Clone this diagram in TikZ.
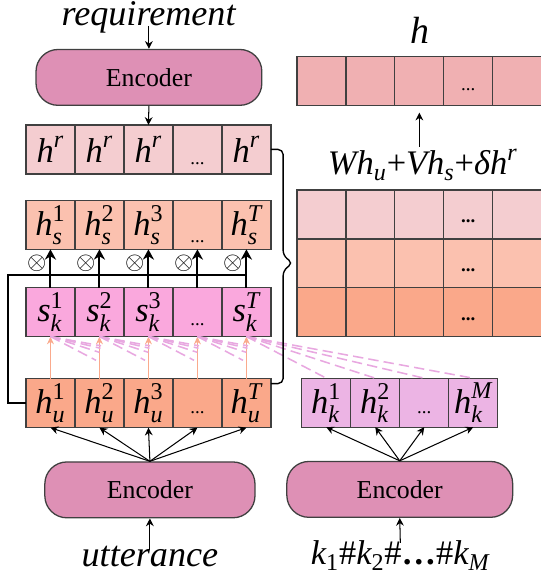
\documentclass[tikz,border=0pt]{standalone}
\usepackage{amsmath}
\usepackage{fontspec}
\setmainfont{Liberation Serif}[ItalicFont={Liberation Serif Italic},BoldFont={Liberation Serif Bold}]
\usetikzlibrary{arrows.meta,calc}

\definecolor{encfill}{RGB}{222,144,181}
\definecolor{hrc}{RGB}{244,205,208}
\definecolor{hsc}{RGB}{251,193,175}
\definecolor{skc}{RGB}{250,168,221}
\definecolor{huc}{RGB}{250,168,138}
\definecolor{hhc}{RGB}{240,176,178}
\definecolor{hkc}{RGB}{236,180,228}
\definecolor{bordc}{RGB}{64,64,64}
\definecolor{salm}{RGB}{250,170,140}
\definecolor{dashc}{RGB}{232,168,224}

\newcommand{\cellfont}{\fontsize{20}{24}\selectfont}
\newcommand{\lblfont}{\fontsize{21}{25}\selectfont}
\newcommand{\vcell}[3]{$\textit{#1}^{#2}_{\textit{#3}}$}
\newcommand{\celldots}{{\fontsize{11}{13}\selectfont ...}}

\tikzset{
  cell/.style={draw=bordc, line width=0.75pt, minimum width=1cm, minimum height=1cm,
    inner sep=0pt, outer sep=0pt, font=\cellfont},
  dotcell/.style={text height=#1, text depth=0pt},
  encoder/.style={draw=bordc, line width=0.75pt, fill=encfill, rounded corners=0.45cm,
    minimum height=1.14cm, font=\fontsize{15}{18}\selectfont},
  arr/.style={-{Stealth[length=4.5pt,width=4.5pt]}, line width=0.6pt},
  boldarr/.style={-{Stealth[length=6pt,width=6.5pt]}, line width=1.2pt},
  salarr/.style={-{Stealth[length=4.5pt,width=4pt]}, line width=0.8pt, draw=salm},
  attn/.style={draw=dashc, line width=0.9pt, dash pattern=on 6pt off 3pt},
  lbl/.style={font=\lblfont, inner sep=1pt, anchor=base},
  mult/.style={inner sep=0pt, font=\fontsize{15}{17}\selectfont},
}

\begin{document}
\begin{tikzpicture}
  \useasboundingbox (0,0) rectangle (11.04,11.86);

  % requirement branch
  \node[lbl] (rq) at (3.04,11.33) {\textit{requirement}};
  \node[encoder, minimum width=4.61cm] (encR) at (3.04,10.28) {Encoder};
  \draw[arr] (rq.base) -- (encR.north);

  \foreach \i in {1,2,3,5}
    \node[cell, fill=hrc] (hr\i) at (\i+0.03,8.81) {$\textit{h}^{\textit{r}}$};
  \node[cell, fill=hrc, dotcell=0.62cm] (hr4) at (4.03,8.81) {\celldots};
  \draw[arr] (encR.south) -- (hr3.north);

  % h_s, s_k, h_u rows
  \foreach \i/\sx in {1/\textup{1},2/\textup{2},3/\textup{3},5/\textit{T}} {
    \node[cell, fill=hsc] (hs\i) at (\i+0.03,7.27) {\vcell{h}{\sx}{s}};
    \node[cell, fill=skc] (sk\i) at (\i+0.03,5.49) {\vcell{s}{\sx}{k}};
    \node[cell, fill=huc] (hu\i) at (\i+0.03,3.63) {\vcell{h}{\sx}{u}};
  }
  \node[cell, fill=hsc, dotcell=0.74cm] (hs4) at (4.03,7.27) {\celldots};
  \node[cell, fill=skc, dotcell=0.53cm] (sk4) at (4.03,5.49) {\celldots};
  \node[cell, fill=huc, dotcell=0.44cm] (hu4) at (4.03,3.63) {\celldots};

  \foreach \i in {1,...,5}
    \node[mult] (ox\i) at (\i-0.25,6.49) {$\otimes$};

  \coordinate (mix) at (0.16,6.24);
  \draw[line width=1.2pt] (hu1.west) -| (mix) -- (mix -| sk5.north);
  \foreach \i in {1,...,5} {
    \draw[boldarr] (sk\i.north) -- (hs\i.south);
    \draw[salarr] (hu\i.north) -- (sk\i.south);
  }

  % keyword branch
  \foreach \j/\sx in {1/\textup{1},2/\textup{2},4/\textit{M}}
    \node[cell, fill=hkc] (hk\j) at (\j+5.66,3.64) {\vcell{h}{\sx}{k}};
  \node[cell, fill=hkc, dotcell=0.44cm] (hk3) at (8.66,3.64) {\celldots};

  \foreach \j in {1,...,4}
    \draw[attn] (sk5.south) -- (hk\j.north);
  \foreach \i in {1,...,4}
    \foreach \j in {1,...,4} {
      \coordinate (aim) at ($(hk\j.north)-(sk5.south)+(sk\i.south)$);
      \draw[attn] (sk\i.south) -- ($(sk\i.south)!1.05cm!(aim)$);
    }

  % bottom encoders
  \node[encoder, minimum width=4.29cm] (encU) at (3.06,1.86) {Encoder};
  \node[encoder, minimum width=4.61cm] (encK) at (8.16,1.87) {Encoder};
  \foreach \i in {1,...,5}
    \draw[arr] (encU.north) -- (hu\i.south);
  \foreach \j in {1,...,4}
    \draw[arr] (encK.north) -- (hk\j.south);
  \node[lbl] (ut) at (3.06,0.29) {\textit{utterance}};
  \node[lbl, font=\fontsize{20}{24}\selectfont] (kw) at (8.17,0.33)
    {$\textit{k}_{\textup{1}}$\#$\textit{k}_{\textup{2}}$\#\textbf{…}\#$\textit{k}_{\textit{M}}$};
  \draw[arr, shorten <=-0.12cm] (ut.north) -- (encU.south);
  \draw[arr, shorten <=-0.08cm] (kw.north) -- (encK.south);

  % brace
  \coordinate (bx) at (5.78,6.49);
  \coordinate (bt) at (5.98,6.49);
  \coordinate (bu) at ($(hu5.north east)+(0,-0.1)$);
  \draw[line width=0.8pt, rounded corners=3pt] (hr5.east) -- (bx |- hr5.east)
    -- ([yshift=0.15cm]bx) -- (bt) -- ([yshift=-0.15cm]bx) -- (bx |- bu) -- (bu);

  % fused matrix
  \foreach \r/\fc/\y in {1/hrc/7.48,2/hsc/6.48,3/huc/5.49} {
    \foreach \c in {1,2,3,5}
      \node[cell, fill=\fc] (m\r\c) at (\c+5.56,\y) {};
    \node[cell, fill=\fc, dotcell=0.34cm] (m\r4) at (9.56,\y) {\textbf{\celldots}};
  }

  % output h
  \node[lbl, font=\fontsize{20}{24}\selectfont] (fm) at (8.63,8.29)
    {$\textit{Wh}_{\textit{u}}\text{+}\textit{Vh}_{\textit{s}}\text{+}\textit{δh}^{\textit{r}}$};
  \foreach \c in {1,2,3,5}
    \node[cell, fill=hhc] (hh\c) at (\c+5.56,10.20) {};
  \node[cell, fill=hhc, dotcell=0.36cm] (hh4) at (9.56,10.20) {\celldots};
  \draw[arr, shorten >=0.14cm] (hh3.south |- fm.north) -- (hh3.south);
  \node[lbl, font=\fontsize{22}{26}\selectfont] (hl) at (8.57,10.98) {\textit{h}};
\end{tikzpicture}
\end{document}
